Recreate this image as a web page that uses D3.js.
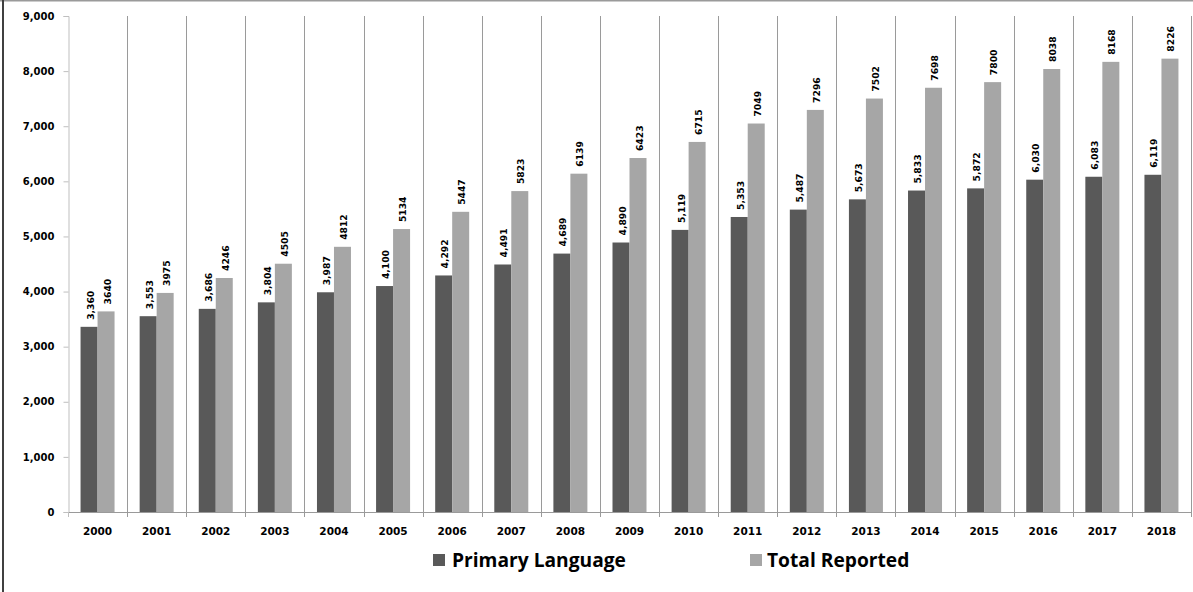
<!DOCTYPE html>
<html><head><meta charset="utf-8">
<script src="https://cdn.jsdelivr.net/npm/d3@7"></script>
<style>body{margin:0;background:#fff}svg{display:block}</style>
</head><body>
<svg id="c" width="1193" height="592"></svg>
<script>
const years = ["2000","2001","2002","2003","2004","2005","2006","2007","2008","2009","2010","2011","2012","2013","2014","2015","2016","2017","2018"];
const primary = [3360,3553,3686,3804,3987,4100,4292,4491,4689,4890,5119,5353,5487,5673,5833,5872,6030,6083,6119];
const total = [3640,3975,4246,4505,4812,5134,5447,5823,6139,6423,6715,7049,7296,7502,7698,7800,8038,8168,8226];
const yTicks = [0,1000,2000,3000,4000,5000,6000,7000,8000,9000];
const seriesNames = ["Primary Language","Total Reported"];
const colors = ["#595959","#a6a6a6"];

const svg = d3.select("#c");
const W = 1193, H = 592;
const L = 68, R = 1191, T = 16, B = 512;

// frame
svg.append("line").attr("x1",0).attr("x2",W).attr("y1",0.5).attr("y2",0.5).attr("stroke","#9a9a9a").attr("stroke-width",2);
svg.append("line").attr("x1",3).attr("x2",3).attr("y1",0).attr("y2",H).attr("stroke","#404040").attr("stroke-width",2);

const x = d3.scaleBand().domain(years).range([L,R]).paddingInner(0).paddingOuter(0);
const y = d3.scaleLinear().domain([0,9000]).range([B,T]);
const xs = d3.scaleBand().domain([0,1]).range([0,34]);

// vertical gridlines at category boundaries
const bounds = years.slice(1).map(d => x(d)).concat([R]);
svg.append("g").selectAll("line").data(bounds).join("line")
  .attr("x1",d=>Math.round(d)+0.5).attr("x2",d=>Math.round(d)+0.5)
  .attr("y1",T).attr("y2",B+5)
  .attr("stroke","#9a9a9a").attr("stroke-width",1);

// y axis
const yAxis = d3.axisLeft(y).tickValues(yTicks).tickSize(5).tickPadding(9).tickFormat(d3.format(","));
const gy = svg.append("g").attr("transform",`translate(${L+0.5},0)`).call(yAxis);
gy.select(".domain").attr("stroke","#bfbfbf");
gy.selectAll(".tick line").attr("stroke","#bfbfbf");
gy.selectAll("text").attr("font-family","DejaVu Sans").attr("font-weight","bold").attr("font-size",10).attr("fill","#000");

// x axis line
svg.append("line").attr("x1",L).attr("x2",R).attr("y1",B+0.5).attr("y2",B+0.5).attr("stroke","#9a9a9a");
svg.append("line").attr("x1",L+0.5).attr("x2",L+0.5).attr("y1",B).attr("y2",B+5).attr("stroke","#bfbfbf");

// x labels
svg.append("g").selectAll("text").data(years).join("text")
  .attr("x",d=>x(d)+x.bandwidth()/2).attr("y",531)
  .attr("text-anchor","middle").attr("dominant-baseline","central")
  .attr("font-family","DejaVu Sans").attr("font-weight","bold").attr("font-size",10.5)
  .text(d=>d);

// bars
const groups = svg.append("g").selectAll("g").data(years).join("g")
  .attr("transform",d=>`translate(${x(d)+x.bandwidth()/2-17},0)`);
const data = [primary, total];
const fmts = [d3.format(","), d3.format("d")];
[0,1].forEach(s=>{
  groups.append("rect")
    .attr("x",xs(s)).attr("width",xs.bandwidth())
    .attr("y",(d,i)=>y(data[s][i])).attr("height",(d,i)=>B-y(data[s][i]))
    .attr("fill",colors[s]);
  groups.append("text")
    .attr("transform",(d,i)=>`translate(${xs(s)+xs.bandwidth()/2+1},${y(data[s][i])-7}) rotate(-90)`)
    .attr("dominant-baseline","central")
    .attr("font-family","DejaVu Sans").attr("font-weight","bold").attr("font-size",9.2)
    .text((d,i)=>fmts[s](data[s][i]));
});

// legend
const leg = [{x:433,tx:452},{x:750,tx:767}];
const legTexts = [];
seriesNames.forEach((n,i)=>{
  svg.append("rect").attr("x",leg[i].x).attr("y",554).attr("width",12).attr("height",12).attr("fill",colors[i]);
  legTexts.push(svg.append("text").attr("x",leg[i].tx).attr("y",567)
    .attr("font-family","Open Sans").attr("font-weight","bold").attr("font-size",18).text(n));
});
// fit legend font so "Primary Language" spans ~174px
const w0 = legTexts[0].node().getComputedTextLength();
const fs = 18 * 174 / w0;
legTexts.forEach(t=>t.attr("font-size",fs));
</script>
</body></html>
